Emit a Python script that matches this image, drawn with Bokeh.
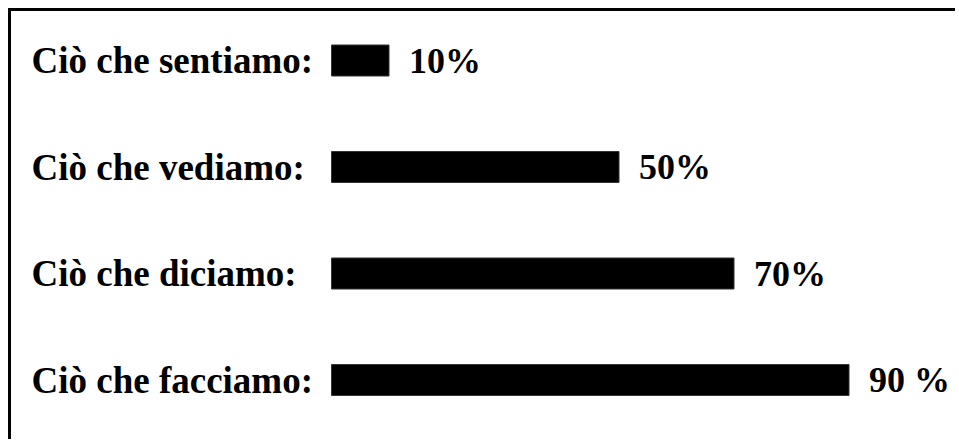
import numpy as np
from bokeh.plotting import figure
from bokeh.models import ColumnDataSource, Range1d
from bokeh.core.properties import value
from bokeh.embed import file_html
from bokeh.resources import INLINE

# ---- data ----
categories = ["Ciò che sentiamo:", "Ciò che vediamo:", "Ciò che diciamo:", "Ciò che facciamo:"]
percentages = [10, 50, 70, 90]
pct_labels = ["10%", "50%", "70%", "90 %"]

# ---- layout constants (pixels) ----
W, H = 947, 431
PX_PER_UNIT = 5.75      # horizontal pixels per percent
BAR_X0 = 320            # canvas x where bars start
ROW0 = 49.0             # canvas y of the first row centre
ROW_STEP = 106.5        # pixels between rows
BAR_PX = 31             # bar thickness in pixels

x_range = Range1d(start=-BAR_X0 / PX_PER_UNIT, end=(W - BAR_X0) / PX_PER_UNIT)
y_range = Range1d(start=(H - ROW0) / ROW_STEP, end=-ROW0 / ROW_STEP)

rows = np.arange(len(categories))
src = ColumnDataSource(dict(y=rows, cat=categories, val=percentages, lab=pct_labels,
                            x0=[x_range.start] * len(categories)))

p = figure(width=W, height=H, x_range=x_range, y_range=y_range,
           output_backend="svg", toolbar_location=None, min_border=0,
           styles={"margin-top": "8px", "margin-left": "8px",
                   "border-top": "3px solid black", "border-left": "3px solid black"})
p.axis.visible = False
p.grid.visible = False
p.outline_line_color = None
p.background_fill_color = "white"
p.border_fill_color = "white"

p.hbar(y="y", left=0, right="val", height=BAR_PX / ROW_STEP, source=src,
       fill_color="black", line_color="#333333", line_width=1)

font = value("Liberation Serif")
p.text(x="x0", y="y", text="cat", source=src, x_offset=20,
       text_font=font, text_font_style="bold", text_font_size="37px",
       text_color="black", text_align="left", text_baseline="middle")
p.text(x="val", y="y", text="lab", source=src, x_offset=20,
       text_font=font, text_font_style="bold", text_font_size="36px",
       text_color="black", text_align="left", text_baseline="middle")

open("out.html", "w").write(file_html(p, INLINE))
